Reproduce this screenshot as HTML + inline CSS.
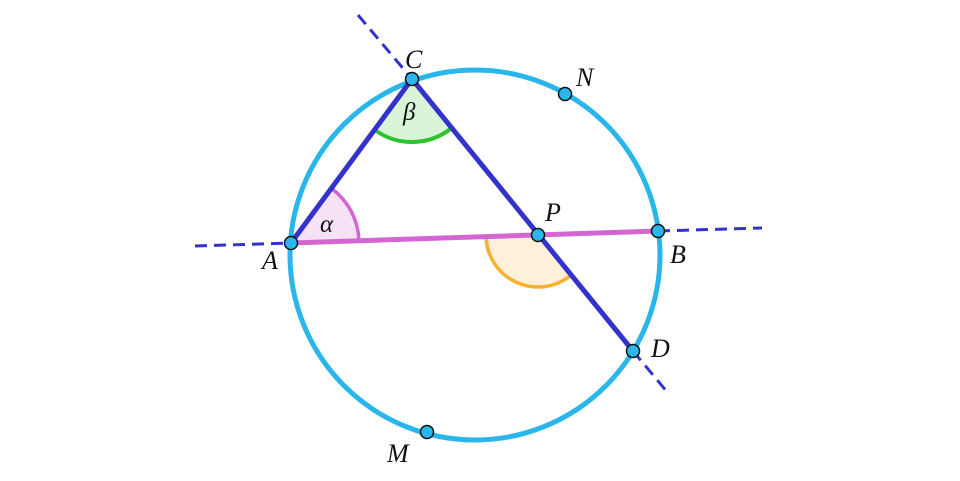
<!DOCTYPE html>
<html><head><meta charset="utf-8"><style>html,body{margin:0;padding:0;background:#fff}svg{display:block}</style></head>
<body>
<svg width="960" height="481" viewBox="0 0 960 481" xmlns="http://www.w3.org/2000/svg">
<path d="M291,243 L358.97,240.78 A68,68 0 0 0 331.37,188.28 Z" fill="#f7e1f5"/>
<path d="M358.97,240.78 A68,68 0 0 0 331.37,188.28" fill="none" stroke="#d466d4" stroke-width="3.5"/>
<path d="M412,79 L374.6,129.7 A63,63 0 0 0 451.7,127.9 Z" fill="#d8f5d8"/>
<path d="M374.6,129.7 A63,63 0 0 0 451.7,127.9" fill="none" stroke="#2ec42e" stroke-width="4"/>
<path d="M538,235 L486,236.7 A52,52 0 0 0 571,275.2 Z" fill="#fff0d9"/>
<path d="M486,236.7 A52,52 0 0 0 571,275.2" fill="none" stroke="#f7b030" stroke-width="3.5"/>
<circle cx="475" cy="255" r="185" fill="none" stroke="#29b6ea" stroke-width="5"/>
<line x1="195" y1="246" x2="291" y2="243" stroke="#3333cc" stroke-width="3" stroke-dasharray="12,7"/>
<line x1="658" y1="231" x2="762" y2="228" stroke="#3333cc" stroke-width="3" stroke-dasharray="12,7"/>
<line x1="358" y1="15" x2="412" y2="79" stroke="#3333cc" stroke-width="3" stroke-dasharray="12,7"/>
<line x1="633" y1="351" x2="668" y2="393" stroke="#3333cc" stroke-width="3" stroke-dasharray="12,7"/>
<line x1="291" y1="243" x2="658" y2="231" stroke="#d466d4" stroke-width="5"/>
<line x1="291" y1="243" x2="412" y2="79" stroke="#3333cc" stroke-width="5"/>
<line x1="412" y1="79" x2="633" y2="351" stroke="#3333cc" stroke-width="5"/>
<g fill="#29b6ea" stroke="#111" stroke-width="1.5">
<circle cx="291" cy="243" r="6.5"/><circle cx="412" cy="79" r="6.5"/><circle cx="565" cy="94" r="6.5"/>
<circle cx="538" cy="235" r="6.5"/><circle cx="658" cy="231" r="6.5"/><circle cx="633" cy="351" r="6.5"/>
<circle cx="427" cy="432" r="6.5"/>
</g>
<g font-family="Liberation Serif, serif" font-style="italic" font-size="26" fill="#111">
<text x="405" y="68">C</text><text x="576" y="86">N</text><text x="545" y="221">P</text>
<text x="670" y="263">B</text><text x="651" y="357">D</text><text x="387" y="462">M</text>
<text x="262" y="269">A</text><text x="320" y="232" font-size="25">α</text><text x="403" y="120" font-size="25">β</text>
</g>
</svg>
</body></html>
